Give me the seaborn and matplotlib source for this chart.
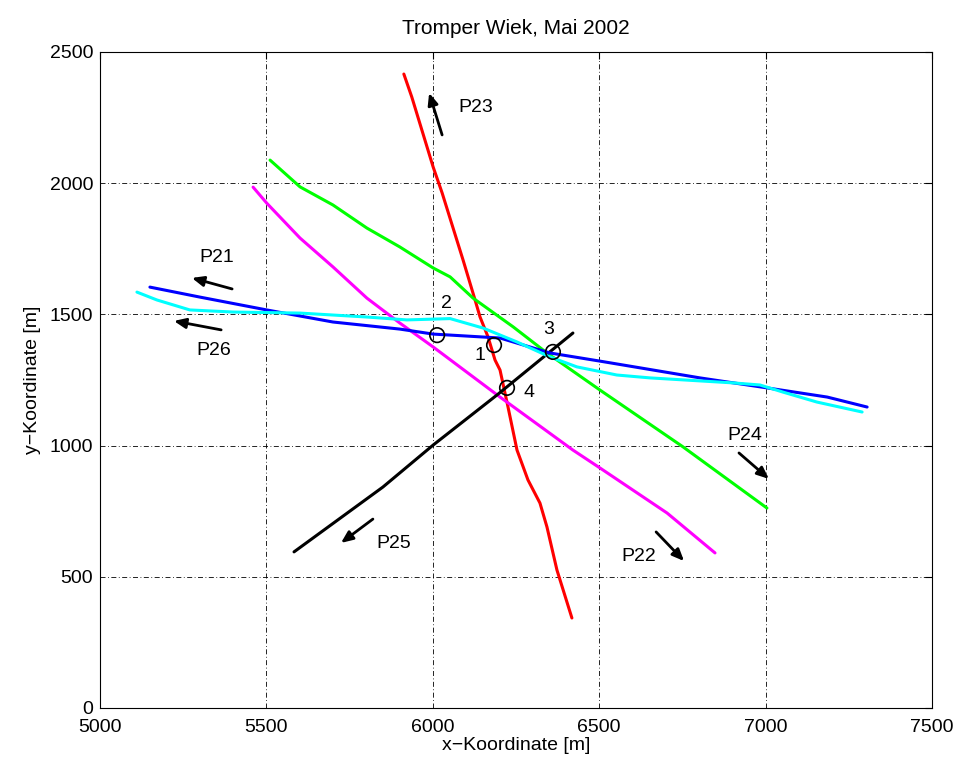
import pandas as pd
import matplotlib
matplotlib.use('Agg')
import matplotlib.pyplot as plt
import seaborn as sns

sns.set_style("white")
plt.rcParams['font.family'] = ['Liberation Sans', 'DejaVu Sans']
plt.rcParams['text.color'] = 'black'
plt.rcParams['axes.labelcolor'] = 'black'
plt.rcParams['xtick.color'] = 'black'
plt.rcParams['ytick.color'] = 'black'

# profile lines (x, y in m)
p23_x = [5913, 5937, 6001, 6028, 6091, 6127, 6142, 6166, 6187, 6202, 6226, 6253, 6286, 6322, 6343, 6373, 6418]
p23_y = [2416, 2328, 2062, 1963, 1707, 1555, 1490, 1414, 1326, 1288, 1147, 983, 869, 781, 690, 526, 343]

p24_x = [5511, 5601, 5700, 5802, 5901, 6001, 6052, 6121, 6242, 6343, 6502, 6752, 7004]
p24_y = [2088, 1986, 1917, 1829, 1757, 1677, 1643, 1562, 1452, 1353, 1212, 995, 762]

p22_x = [5460, 5501, 5601, 5700, 5802, 5901, 6001, 6202, 6421, 6502, 6704, 6848]
p22_y = [1985, 1924, 1791, 1681, 1562, 1467, 1376, 1185, 983, 915, 743, 591]

p25_x = [5583, 5850, 6001, 6193, 6421]
p25_y = [595, 842, 1002, 1193, 1429]

p21_x = [5150, 5300, 5501, 5700, 5901, 6001, 6202, 6352, 6502, 6803, 7004, 7185, 7305]
p21_y = [1604, 1566, 1517, 1471, 1444, 1425, 1410, 1353, 1322, 1258, 1220, 1185, 1147]

p26_x = [5111, 5171, 5270, 5400, 5601, 5802, 5922, 6052, 6151, 6253, 6352, 6433, 6553, 6653, 6902, 6983, 7052, 7154, 7290]
p26_y = [1585, 1555, 1517, 1509, 1505, 1490, 1479, 1484, 1448, 1395, 1338, 1300, 1269, 1258, 1239, 1231, 1204, 1166, 1128]

# crossing points
cross_x = [6184, 6013, 6361, 6223]
cross_y = [1383, 1421, 1357, 1220]
cross_lbl = ['1', '2', '3', '4']
cross_lbl_x = [6142, 6040, 6349, 6289]
cross_lbl_y = [1345, 1543, 1441, 1204]

# direction arrows: name, tail, head, label position
arrow_names = ['P23', 'P21', 'P26', 'P24', 'P22', 'P25']
arrow_tail = [(6028, 2184), (5397, 1597), (5364, 1441), (6920, 972), (6671, 671), (5820, 720)]
arrow_head = [(5989, 2344), (5276, 1639), (5222, 1475), (7010, 873), (6755, 560), (5724, 629)]
arrow_lbl = [(6130, 2287), (5352, 1715), (5343, 1364), (6938, 1037), (6620, 579), (5883, 625)]

profiles = [
    (p23_x, p23_y, '#ff0000'),
    (p24_x, p24_y, '#00ff00'),
    (p22_x, p22_y, '#ff00ff'),
    (p25_x, p25_y, '#000000'),
    (p21_x, p21_y, '#0000ff'),
    (p26_x, p26_y, '#00ffff'),
]

fig = plt.figure(figsize=(9.63, 7.70), dpi=100)
ax = fig.add_axes([100 / 963, 1 - 708 / 770, 832 / 963, 656 / 770])

for px, py, col in profiles:
    df = pd.DataFrame({'x': px, 'y': py})
    sns.lineplot(data=df, x='x', y='y', sort=False, color=col, linewidth=2.2, ax=ax)

sns.scatterplot(x=cross_x, y=cross_y, marker='o', s=110, facecolors='none',
                edgecolor='black', linewidth=1.2, ax=ax, zorder=5)
for lx, ly, t in zip(cross_lbl_x, cross_lbl_y, cross_lbl):
    ax.text(lx, ly, t, fontsize=14, ha='center', va='center')

for name, tail, head, lp in zip(arrow_names, arrow_tail, arrow_head, arrow_lbl):
    ax.annotate('', xy=head, xytext=tail,
                arrowprops=dict(arrowstyle='-|>,head_length=0.7,head_width=0.3',
                                color='black', lw=2, shrinkA=0, shrinkB=0))
    ax.text(lp[0], lp[1], name, fontsize=14, ha='center', va='center')

ax.set_xlim(5000, 7500)
ax.set_ylim(0, 2500)
ax.set_xticks([5000, 5500, 6000, 6500, 7000, 7500])
ax.set_yticks([0, 500, 1000, 1500, 2000, 2500])
ax.grid(True, color='black', linewidth=0.6, linestyle=(0, (6, 3, 1, 3)))
ax.tick_params(direction='in', top=True, right=True, labelsize=14, length=5)
ax.tick_params(axis='y', pad=5)
ax.tick_params(axis='x', pad=8)
for sp in ax.spines.values():
    sp.set_color('black')
    sp.set_linewidth(0.8)

ax.set_title('Tromper Wiek, Mai 2002', fontsize=15, pad=13)
ax.set_xlabel('x\u2212Koordinate [m]', fontsize=14, labelpad=1)
ax.set_ylabel('y\u2212Koordinate [m]', fontsize=14, labelpad=6)

fig.savefig('out.png', dpi=100)
